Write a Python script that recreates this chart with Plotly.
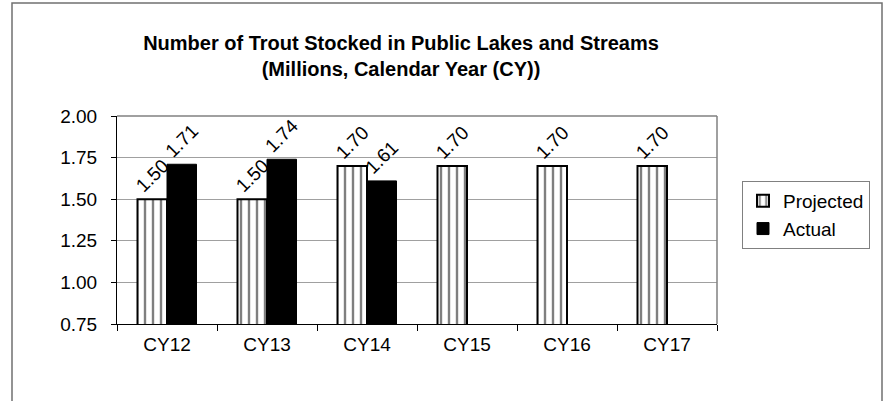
import plotly.graph_objects as go

categories = ["CY12", "CY13", "CY14", "CY15", "CY16", "CY17"]
projected = [1.50, 1.50, 1.70, 1.70, 1.70, 1.70]
actual = [1.71, 1.74, 1.61, None, None, None]
y_ticks = [0.75, 1.00, 1.25, 1.50, 1.75, 2.00]

FONT = "Liberation Sans, Arial, sans-serif"
FS = 19

fig = go.Figure()
fig.add_trace(go.Bar(
    name="Projected", x=categories, y=projected,
    text=[f"{v:.2f}" for v in projected], textposition="outside", textangle=-45,
    constraintext="none",
    textfont=dict(size=FS, color="black", family=FONT),
    marker=dict(color="white", line=dict(color="black", width=2),
                pattern=dict(shape="|", fgcolor="black", bgcolor="white", size=8, solidity=0.3)),
    cliponaxis=False, legendgroup="p",
))
fig.add_trace(go.Bar(
    name="Actual", x=categories, y=actual,
    text=[f"{v:.2f}" if v is not None else "" for v in actual], textposition="outside", textangle=-45,
    constraintext="none",
    textfont=dict(size=FS, color="black", family=FONT),
    marker=dict(color="black", line=dict(color="black", width=1)),
    cliponaxis=False, legendgroup="a",
))

fig.update_layout(
    width=884, height=401,
    margin=dict(l=117, r=167, t=116, b=77),
    paper_bgcolor="white", plot_bgcolor="white",
    font=dict(family=FONT, size=FS, color="black"),
    barmode="group", bargap=0.41, bargroupgap=0,
    title=dict(text="<b>Number of Trout Stocked in Public Lakes and Streams<br>(Millions, Calendar Year (CY))</b>",
               x=401/884, xanchor="center", y=1-50/401, yanchor="top",
               font=dict(size=20, family=FONT, color="black")),
    legend=dict(x=(742-117)/600, xanchor="left", y=(324-181)/208, yanchor="top",
                bordercolor="#808080", borderwidth=1, bgcolor="white",
                font=dict(size=FS, family=FONT), tracegroupgap=12,
                traceorder="normal", itemwidth=30),
    showlegend=True,
)
fig.update_xaxes(showline=True, linecolor="black", linewidth=1, ticks="outside",
                 tickson="boundaries", ticklen=6, tickcolor="black",
                 tickfont=dict(size=FS), ticklabelstandoff=3)
fig.update_yaxes(range=[0.75, 2.0], tickvals=y_ticks, tickformat=".2f",
                 showline=True, linecolor="black", linewidth=1, ticks="outside",
                 ticklen=5, tickcolor="black", showgrid=True, gridcolor="#a0a0a0",
                 gridwidth=1, tickfont=dict(size=FS), zeroline=False,
                 ticklabelstandoff=10)

# plot area frame (top and right, gray)
fig.add_shape(type="line", xref="paper", yref="paper", x0=0, x1=1, y0=1, y1=1,
              line=dict(color="#808080", width=1.5))
fig.add_shape(type="line", xref="paper", yref="paper", x0=1, x1=1, y0=0, y1=1,
              line=dict(color="#808080", width=1.5))
# outer chart border
fig.add_shape(type="rect", xref="paper", yref="paper",
              x0=(12-117)/600, x1=(882-117)/600, y0=(324-420)/208, y1=(324-3)/208,
              line=dict(color="#707070", width=1.5), layer="below")

fig.write_html("out.html", config={"displayModeBar": False},
               post_script="document.body.style.margin='0';")
